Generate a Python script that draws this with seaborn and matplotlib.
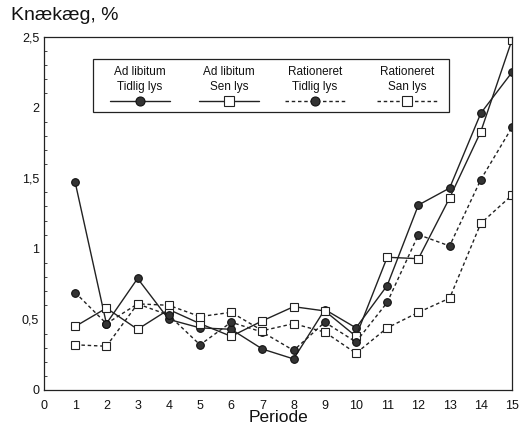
import matplotlib
matplotlib.use("Agg")
import matplotlib.pyplot as plt
import seaborn as sns
import numpy as np
import pandas as pd
from matplotlib.ticker import MultipleLocator, FuncFormatter
from matplotlib.lines import Line2D
from matplotlib.patches import Rectangle

periods = list(range(1, 16))
adlib_tidlig = [1.47, 0.47, 0.79, 0.50, 0.44, 0.43, 0.29, 0.22, 0.57, 0.44, 0.74, 1.31, 1.43, 1.96, 2.25]
adlib_sen    = [0.45, 0.58, 0.43, 0.57, 0.47, 0.38, 0.49, 0.59, 0.56, 0.38, 0.94, 0.93, 1.36, 1.83, 2.48]
rat_tidlig   = [0.69, 0.47, 0.61, 0.53, 0.32, 0.48, 0.41, 0.28, 0.48, 0.34, 0.62, 1.10, 1.02, 1.49, 1.86]
rat_san      = [0.32, 0.31, 0.61, 0.60, 0.52, 0.55, 0.42, 0.47, 0.41, 0.26, 0.44, 0.55, 0.65, 1.18, 1.38]
labels = ["Ad libitum\nTidlig lys", "Ad libitum\nSen lys", "Rationeret\nTidlig lys", "Rationeret\nSan lys"]
ytick_vals = [0, 0.5, 1, 1.5, 2, 2.5]

sns.set_theme(style="white")
plt.rcParams['font.family'] = ['Liberation Sans', 'DejaVu Sans']

fig = plt.figure(figsize=(5.26, 4.34), dpi=100)
ax = fig.add_axes([44/526, 1-390/434, 468/526, 353/434])

series = [adlib_tidlig, adlib_sen, rat_tidlig, rat_san]
styles = [
    dict(linestyle='-', marker='o', mfc='#333333', mec='#111111'),
    dict(linestyle='-', marker='s', mfc='white', mec='#222222'),
    dict(linestyle=(0, (2.5, 2)), marker='o', mfc='#333333', mec='#111111'),
    dict(linestyle=(0, (2.5, 2)), marker='s', mfc='white', mec='#222222'),
]
for vals, st in zip(series, styles):
    df = pd.DataFrame({"Periode": periods, "v": vals})
    sns.lineplot(data=df, x="Periode", y="v", ax=ax, color='#222222', linewidth=1.0,
                 linestyle=st['linestyle'], marker=st['marker'], markersize=5.5,
                 markerfacecolor=st['mfc'], markeredgecolor=st['mec'], markeredgewidth=0.8)

ax.set_xlim(0, 15)
ax.set_ylim(0, 2.5)
ax.set_xticks(range(0, 16))
ax.set_yticks(ytick_vals)
ax.yaxis.set_minor_locator(MultipleLocator(0.1))
ax.yaxis.set_major_formatter(FuncFormatter(lambda v, p: ("%g" % v).replace('.', ',')))
ax.tick_params(axis='both', which='major', direction='in', length=5, width=0.8, labelsize=9, colors='#111111')
ax.tick_params(axis='y', which='minor', direction='in', length=2.5, width=0.6, left=True)
ax.tick_params(axis='x', pad=7)
for s in ax.spines.values():
    s.set_color('#222222')
    s.set_linewidth(0.9)
ax.set_xlabel("Periode", fontsize=12.5, color='#111111', labelpad=-1)
ax.set_ylabel("")
fig.text(11/526, 1-16/434, "Knækæg, %", fontsize=14, color='#111111', va='center', ha='left')

# legend box
x0, x1 = (93-44)/468, (449-44)/468
y0, y1 = (390-112)/353, (390-59)/353
ax.add_patch(Rectangle((x0, y0), x1-x0, y1-y0, transform=ax.transAxes, fill=True,
                       facecolor='white', edgecolor='#222222', linewidth=0.9, zorder=5))
centers = [(140-44)/468, (229-44)/468, (315-44)/468, (407-44)/468]
hw = 30/468
ly = (390-101)/353
for c, lab, st in zip(centers, labels, styles):
    l1, l2 = lab.split("\n")
    ax.text(c, (390-72)/353, l1, transform=ax.transAxes, ha='center', va='center', fontsize=8.5, zorder=6, color='#111111')
    ax.text(c, (390-87)/353, l2, transform=ax.transAxes, ha='center', va='center', fontsize=8.5, zorder=6, color='#111111')
    ax.add_line(Line2D([c-hw, c+hw], [ly, ly], transform=ax.transAxes, color='#222222', linewidth=1.0,
                       linestyle=st['linestyle'], zorder=6))
    ax.add_line(Line2D([c], [ly], transform=ax.transAxes, color='#222222', linestyle='none',
                       marker=st['marker'], markersize=6.5, markerfacecolor=st['mfc'],
                       markeredgecolor=st['mec'], markeredgewidth=0.8, zorder=7))

fig.savefig("out.png", dpi=100)
